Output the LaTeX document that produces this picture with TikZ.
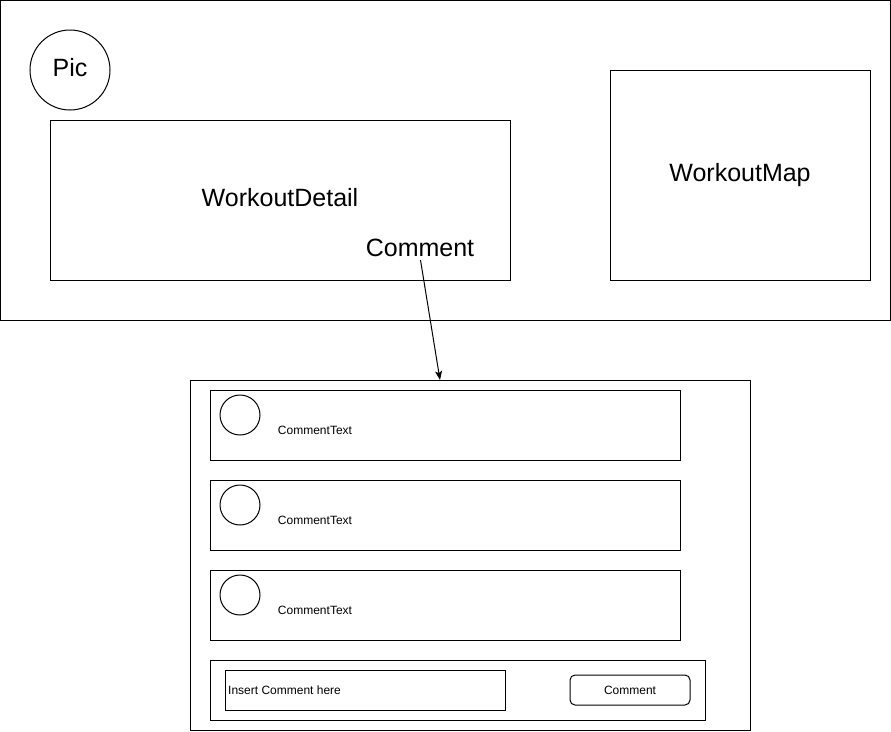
\documentclass[tikz,border=0pt]{standalone}
\usepackage{fontspec}
\setmainfont{Liberation Sans}
\usetikzlibrary{arrows.meta}
\begin{document}
\begin{tikzpicture}[x=1pt,y=-1pt,
  box/.style={draw,line width=1pt,inner sep=0pt,outer sep=0pt,minimum width=#1},
  bigtxt/.style={font=\fontsize{25}{29}\selectfont,inner sep=0pt},
  smalltxt/.style={font=\fontsize{12}{14}\selectfont,inner sep=0pt},
  avatar/.style={draw,line width=1pt,circle,inner sep=0pt,minimum size=40pt},
  row/.style={draw,line width=1pt,inner sep=0pt,minimum width=470pt,minimum height=70pt}]
\useasboundingbox (0,0) rectangle (891,731);

% top screen
\node[box=890pt,minimum height=320pt] (screen) at (445,160) {};
\node[draw,line width=1pt,circle,inner sep=0pt,minimum size=80pt] (pic) at (70,70) {};
\node[bigtxt] (pictxt) at (70,68) {Pic};
\node[box=460pt,minimum height=160pt] (detail) at (280,200) {};
\node[bigtxt] (detailtxt) at (280,198) {WorkoutDetail};
\node[bigtxt] (cmt) at (420,248) {Comment};
\node[box=260pt,minimum height=210pt] (map) at (740,175) {};
\node[bigtxt] (maptxt) at (740,175) {WorkoutMap};

% comment panel
\node[box=560pt,minimum height=350pt] (panel) at (470,555) {};
\coordinate (panelin) at (440,380);

\foreach \i/\y in {1/425,2/515,3/605}{
  \node[row] (row\i) at (445,\y) {};
  \node[avatar] (av\i) at (240,\y-10) {};
  \node[smalltxt] (txt\i) at (315,\y+5) {CommentText};
}

\node[box=495pt,minimum height=60pt] (inputbar) at (457.5,690) {};
\node[box=280pt,minimum height=40pt] (input) at (365,690) {};
\node[smalltxt,anchor=west] (inputtxt) at (228,690) {Insert Comment here};
\node[draw,line width=1pt,rounded corners=5pt,minimum width=120pt,minimum height=30pt,inner sep=0pt] (btn) at (630,690) {};
\node[smalltxt] (btntxt) at (630,690.5) {Comment};

% link from the comment label to the panel
\draw[line width=1pt,-{Stealth[length=9pt,width=7pt,inset=2pt]},shorten <=3pt] (cmt.south) -- (panelin);
\end{tikzpicture}
\end{document}
